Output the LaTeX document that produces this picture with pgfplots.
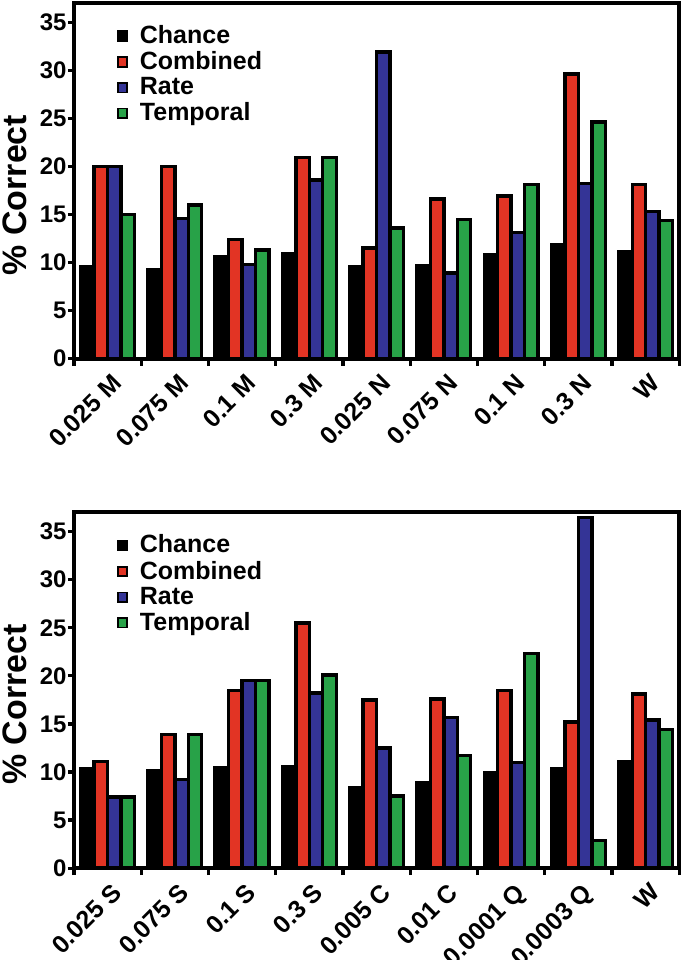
\documentclass[border=0pt]{standalone}
\usepackage{fontspec}
\setmainfont{Liberation Sans}
\usepackage{pgfplots}
\usepackage{pgfplotstable}
\pgfplotsset{compat=1.18}
\usetikzlibrary{calc}
\definecolor{cred}{RGB}{226,52,36}
\definecolor{cblue}{RGB}{52,52,150}
\definecolor{cgreen}{RGB}{40,162,72}

\pgfplotstableread{
g chance combined rate temporal
0 9.6 20.0 20.0 15.0
1 9.3 20.0 14.6 16.0
2 10.6 12.4 9.8 11.3
3 10.9 20.9 18.6 20.9
4 9.6 11.5 31.9 13.6
5 9.7 16.6 8.9 14.5
6 10.8 16.9 13.1 18.1
7 11.9 29.6 18.2 24.6
8 11.1 18.1 15.3 14.4
}\toptable

\pgfplotstableread{
g chance combined rate temporal
0 10.3 11.1 7.4 7.4
1 10.1 13.9 9.2 13.9
2 10.4 18.5 19.5 19.5
3 10.6 25.5 18.2 20.1
4 8.4 17.5 12.5 7.5
5 8.9 17.6 15.7 11.7
6 9.9 18.5 11.0 22.3
7 10.3 15.2 36.5 2.9
8 11.1 18.1 15.4 14.4
}\bottable

\pgfplotsset{
  mybars/.style={
    width=303pt, height=178pt, scale only axis,
    xmin=-0.5, xmax=8.5, ymin=0, ymax=37,
    ybar, bar width=0.2,
    ytick={0,5,...,35},
    xtick={0,...,8},
    minor xtick={-0.5,0.5,...,8.5},
    major x tick style={draw=none},
    tick align=outside, xtick pos=lower, ytick pos=left,
    major tick length=3pt, minor tick length=3.5pt,
    tick style={line width=1.6pt, black},
    axis line style={line width=2pt},
    /pgf/number format/assume math mode=true,
    yticklabel style={font=\bfseries\fontsize{12}{14}\selectfont, inner sep=0.5pt},
    xticklabel style={font=\bfseries\fontsize{12.5}{14}\selectfont, xshift=1.5pt, yshift=-3pt, rotate=45, anchor=north east, inner sep=0.5pt},
    ylabel={\% Correct},
    ylabel style={font=\bfseries\fontsize{17}{20}\selectfont, at={(axis description cs:0,0.46)}, anchor=center, yshift=29.5pt},
    legend style={at={(0.068,0.955)}, anchor=north west, draw=none, fill=none,
      font=\bfseries\fontsize{12.5}{12.5}\selectfont, row sep=-1.5pt, inner sep=1pt},
    legend cell align=left,
    legend image code/.code={\draw[#1, line width=0.8pt, draw=black] (0pt,-2.4pt) rectangle (4.4pt,2.4pt); \path (8pt,0pt);},
    every axis plot/.append style={draw=black, line width=1.7pt},
  }
}

\begin{document}
\begin{tikzpicture}
\begin{axis}[mybars, name=top, at={(0,0)}, anchor=north west,
  xticklabels={0.025 M,0.075 M,0.1 M,0.3 M,0.025 N,0.075 N,0.1 N,0.3 N,W}]
  \addplot[fill=black, bar shift=-0.3] table[x=g, y=chance] {\toptable};
  \addplot[fill=cred, bar shift=-0.1] table[x=g, y=combined] {\toptable};
  \addplot[fill=cblue, bar shift=0.1] table[x=g, y=rate] {\toptable};
  \addplot[fill=cgreen, bar shift=0.3] table[x=g, y=temporal] {\toptable};
  \legend{Chance,Combined,Rate,Temporal}
\end{axis}
\begin{axis}[mybars, name=bot, at={(0,-255pt)}, anchor=north west,
  xticklabels={0.025 S,0.075 S,0.1 S,0.3 S,0.005 C,0.01 C,0.0001 Q,0.0003 Q,W}]
  \addplot[fill=black, bar shift=-0.3] table[x=g, y=chance] {\bottable};
  \addplot[fill=cred, bar shift=-0.1] table[x=g, y=combined] {\bottable};
  \addplot[fill=cblue, bar shift=0.1] table[x=g, y=rate] {\bottable};
  \addplot[fill=cgreen, bar shift=0.3] table[x=g, y=temporal] {\bottable};
  \legend{Chance,Combined,Rate,Temporal}
\end{axis}
\pgfresetboundingbox
\path ($(top.north west)+(-37pt,1.5pt)$) rectangle ($(bot.south east)+(1pt,-46pt)$);
\end{tikzpicture}
\end{document}
